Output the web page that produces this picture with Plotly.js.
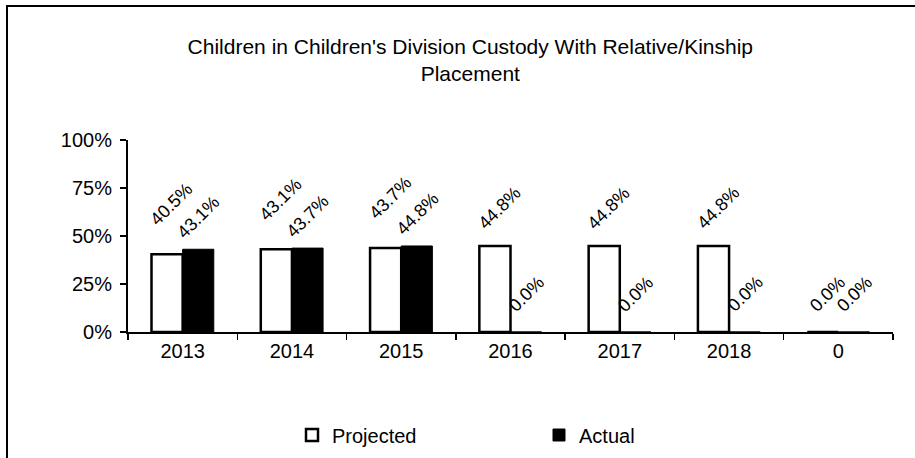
<!DOCTYPE html>
<html>
<head>
<meta charset="utf-8">
<script src="https://cdn.plot.ly/plotly-3.0.1.min.js"></script>
<style>
  html, body { margin: 0; padding: 0; background: #fff; }
  #wrap { position: relative; width: 915px; height: 458px; }
  #chart { position: absolute; left: 0; top: 0; width: 915px; height: 458px; }
  #frame { position: absolute; left: 6px; top: 5px; width: 915px; height: 460px;
           border-left: 2px solid #000; border-top: 2px solid #000; pointer-events: none; }
</style>
</head>
<body>
<div id="wrap">
  <div id="chart"></div>
  <div id="frame"></div>
</div>
<script>
const categories = ["2013", "2014", "2015", "2016", "2017", "2018", "0"];
const projected = [0.405, 0.431, 0.437, 0.448, 0.448, 0.448, 0.0];
const actual = [0.431, 0.437, 0.448, 0.0, 0.0, 0.0, 0.0];
const seriesNames = ["Projected", "Actual"];
const yTickVals = [0, 0.25, 0.5, 0.75, 1.0];
const yTickText = ["0%", "25%", "50%", "75%", "100%"];
const titleText = "Children in Children's Division Custody With Relative/Kinship<br>Placement";

const FONT = "Liberation Sans, Arial, sans-serif";
const pct = v => (v * 100).toFixed(1) + "%";
const idx = categories.map((c, i) => i);

const traces = [
  {
    type: "bar", name: seriesNames[0], x: idx, y: projected,
    marker: { color: "#ffffff", line: { color: "#000000", width: 2.5 } },
    hoverinfo: "skip"
  },
  {
    type: "bar", name: seriesNames[1], x: idx, y: actual,
    marker: { color: "#000000", line: { color: "#000000", width: 1 } },
    hoverinfo: "skip"
  }
];

const annotations = [];
idx.forEach(i => {
  annotations.push({
    x: i, y: projected[i], xref: "x", yref: "y",
    text: pct(projected[i]), showarrow: false, textangle: -45,
    xanchor: "center", yanchor: "middle",
    xshift: -15 + 4, yshift: actual[i] > 0 ? 50 : 38,
    font: { family: FONT, size: 18, color: "#000" }
  });
  annotations.push({
    x: i, y: actual[i], xref: "x", yref: "y",
    text: pct(actual[i]), showarrow: false, textangle: -45,
    xanchor: "center", yanchor: "middle",
    xshift: 16, yshift: actual[i] > 0 ? 32 : 38,
    font: { family: FONT, size: 18, color: "#000" }
  });
});

const layout = {
  width: 915, height: 458,
  paper_bgcolor: "#ffffff", plot_bgcolor: "#ffffff",
  margin: { l: 128, r: 22, t: 140, b: 126 },
  font: { family: FONT, color: "#000" },
  title: {
    text: titleText, font: { family: FONT, size: 21, color: "#000" },
    xref: "container", x: 0.514, xanchor: "center",
    yref: "container", y: 0.882, yanchor: "top"
  },
  barmode: "group", bargap: 0.43, bargroupgap: 0,
  xaxis: {
    type: "linear", range: [-0.5, categories.length - 0.5],
    tickvals: idx, ticktext: categories, tickangle: 0,
    showline: true, linecolor: "#000", linewidth: 2,
    ticks: "", showgrid: false, zeroline: false,
    tickfont: { family: FONT, size: 20, color: "#000" },
    minor: { tickvals: idx.concat([categories.length]).map(i => i - 0.5), ticks: "outside", ticklen: 6, tickcolor: "#000", tickwidth: 1.5, showgrid: false },
    fixedrange: true
  },
  yaxis: {
    range: [0, 1], tickvals: yTickVals, ticktext: yTickText,
    showline: true, linecolor: "#000", linewidth: 2,
    ticks: "outside", ticklen: 6, tickcolor: "#000", tickwidth: 1.5,
    ticklabelstandoff: 4,
    tickfont: { family: FONT, size: 20, color: "#000" }, showgrid: false, zeroline: false,
    fixedrange: true
  },
  showlegend: true,
  legend: {
    orientation: "h", xref: "container", yref: "container",
    x: 292 / 915, xanchor: "left", y: 1 - 435 / 458, yanchor: "middle",
    entrywidth: 202, entrywidthmode: "pixels",
    font: { family: FONT, size: 20, color: "#000" },
    bgcolor: "rgba(0,0,0,0)"
  },
  annotations: annotations
};

Plotly.newPlot("chart", traces, layout, { staticPlot: true, displayModeBar: false });
</script>
</body>
</html>
